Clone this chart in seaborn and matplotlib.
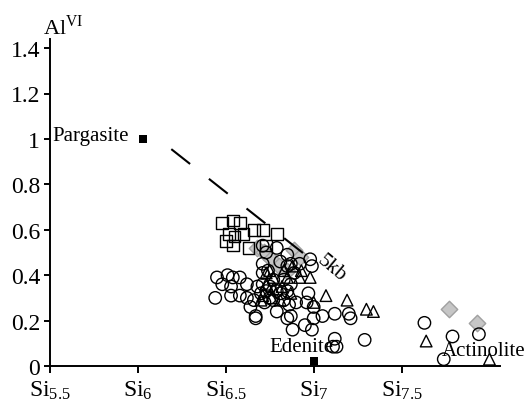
import matplotlib
matplotlib.use("Agg")
import matplotlib.pyplot as plt
import seaborn as sns

# -------------------------
# data (Si vs Al VI)
# -------------------------

sq_x = [6.48, 6.54, 6.58, 6.52, 6.60, 6.50, 6.54, 6.63, 6.66, 6.71, 6.79, 6.55, 6.73]
sq_y = [0.63, 0.64, 0.63, 0.58, 0.58, 0.55, 0.53, 0.52, 0.60, 0.60, 0.58, 0.57, 0.53]

dia_x = [6.68, 6.72, 6.76, 6.89, 6.92, 6.80, 6.85, 7.77, 7.93]
dia_y = [0.52, 0.50, 0.47, 0.51, 0.48, 0.44, 0.42, 0.25, 0.19]

circ_x = [6.71, 6.73, 6.79, 6.85, 6.71, 6.81, 6.87, 6.92, 6.98, 6.99,
          6.45, 6.51, 6.54, 6.58, 6.48, 6.53, 6.44, 6.53, 6.58, 6.62,
          6.68, 6.62, 6.66, 6.64, 6.67, 6.67, 6.72, 6.79, 6.75, 6.83,
          6.86, 6.87, 6.85, 6.88, 6.90, 6.97, 6.96, 7.00, 6.95, 6.99,
          7.00, 7.05, 7.12, 7.20, 7.21, 7.12, 7.11, 7.13, 7.29, 7.63,
          7.79, 7.94, 7.74, 6.71, 6.75, 6.79, 6.73, 6.77, 6.83, 6.85,
          6.70, 6.81, 6.77, 6.71, 6.74, 6.89, 6.87, 6.85]
circ_y = [0.53, 0.50, 0.52, 0.49, 0.45, 0.46, 0.45, 0.45, 0.47, 0.44,
          0.39, 0.40, 0.39, 0.39, 0.36, 0.35, 0.30, 0.31, 0.31, 0.36,
          0.35, 0.30, 0.29, 0.26, 0.22, 0.21, 0.28, 0.24, 0.30, 0.29,
          0.27, 0.22, 0.21, 0.16, 0.28, 0.32, 0.28, 0.26, 0.18, 0.16,
          0.21, 0.22, 0.23, 0.23, 0.21, 0.12, 0.085, 0.085, 0.115, 0.19,
          0.13, 0.14, 0.03, 0.36, 0.35, 0.33, 0.33, 0.38, 0.38, 0.33,
          0.32, 0.32, 0.29, 0.41, 0.42, 0.41, 0.36, 0.44]

tri_x = [6.73, 6.77, 6.83, 6.88, 6.93, 6.98, 6.73, 6.77, 6.82, 6.85,
         6.71, 6.76, 6.70, 6.81, 6.87, 7.00, 7.07, 7.19, 7.30, 7.34,
         7.64, 8.00, 6.92, 6.75]
tri_y = [0.41, 0.39, 0.42, 0.44, 0.42, 0.39, 0.36, 0.34, 0.35, 0.39,
         0.31, 0.30, 0.29, 0.29, 0.32, 0.28, 0.31, 0.29, 0.25, 0.24,
         0.11, 0.03, 0.39, 0.42]

end_x = [6.03, 7.00]
end_y = [1.00, 0.02]

line_x = [6.19, 6.94]
line_y = [0.955, 0.497]

yticks = [0, 0.2, 0.4, 0.6, 0.8, 1.0, 1.2, 1.4]
ytick_labels = ["0", "0.2", "0.4", "0.6", "0.8", "1", "1.2", "1.4"]
xticks = [5.5, 6.0, 6.5, 7.0, 7.5]
xtick_labels = [r"$\mathregular{Si_{5.5}}$", r"$\mathregular{Si_{6}}$",
                r"$\mathregular{Si_{6.5}}$", r"$\mathregular{Si_{7}}$",
                r"$\mathregular{Si_{7.5}}$"]

# -------------------------
# plot
# -------------------------

sns.set_style("white")
plt.rcParams["font.family"] = ["Liberation Serif", "DejaVu Serif"]
plt.rcParams["mathtext.fontset"] = "stix"
for key in ["text.color", "axes.labelcolor", "xtick.color", "ytick.color"]:
    plt.rcParams[key] = "black"

fig = plt.figure(figsize=(5.25, 4.06), dpi=100)
ax = fig.add_axes([50/525, 1-367/406, 450/525, 327/406])

sns.scatterplot(x=dia_x, y=dia_y, marker="D", s=70, color="#c6c6c6",
                edgecolor="#a0a0a0", linewidth=1, ax=ax, zorder=2)
sns.scatterplot(x=sq_x, y=sq_y, marker="s", s=70, fc="none",
                ec="black", linewidth=1, ax=ax, zorder=3)
sns.scatterplot(x=circ_x, y=circ_y, marker="o", s=80, fc="none",
                ec="black", linewidth=1, ax=ax, zorder=3)
sns.scatterplot(x=tri_x, y=tri_y, marker="^", s=70, fc="none",
                ec="black", linewidth=1, ax=ax, zorder=3)
sns.scatterplot(x=end_x, y=end_y, marker="s", s=34, color="black",
                linewidth=0, ax=ax, zorder=4, clip_on=False)

sns.lineplot(x=line_x, y=line_y, color="black", linewidth=1.5, ax=ax,
             dashes=False, zorder=2)
ax.lines[-1].set_dashes((11.5, 11.5))

ax.text(5.95, 1.015, "Pargasite", ha="right", va="center", fontsize=15)
ax.text(6.75, 0.088, "Edenite", ha="left", va="center", fontsize=15)
ax.text(7.73, 0.067, "Actinolite", ha="left", va="center", fontsize=15)
ax.text(7.10, 0.435, "5kb", ha="center", va="center", fontsize=15,
        rotation=-40)

ax.set_xlim(5.5, 8.06)
ax.set_ylim(0, 1.44)
ax.set_yticks(yticks)
ax.set_yticklabels(ytick_labels)
ax.set_xticks(xticks)
ax.set_xticklabels(xtick_labels)

for s in ["top", "right"]:
    ax.spines[s].set_visible(False)
for s in ["left", "bottom"]:
    ax.spines[s].set_color("black")
    ax.spines[s].set_linewidth(1.4)

ax.tick_params(axis="y", direction="out", length=4, width=1.4, pad=3,
               labelsize=17, left=True)
ax.tick_params(axis="x", direction="out", length=5, width=1.4, pad=4,
               labelsize=17, bottom=True)
ax.set_xlabel("")
ax.set_ylabel("")

fig.text(43/525, 1-35/406, r"Al$^{\mathregular{VI}}$", ha="left",
         va="baseline", fontsize=16)

fig.savefig("out.png", dpi=100)
